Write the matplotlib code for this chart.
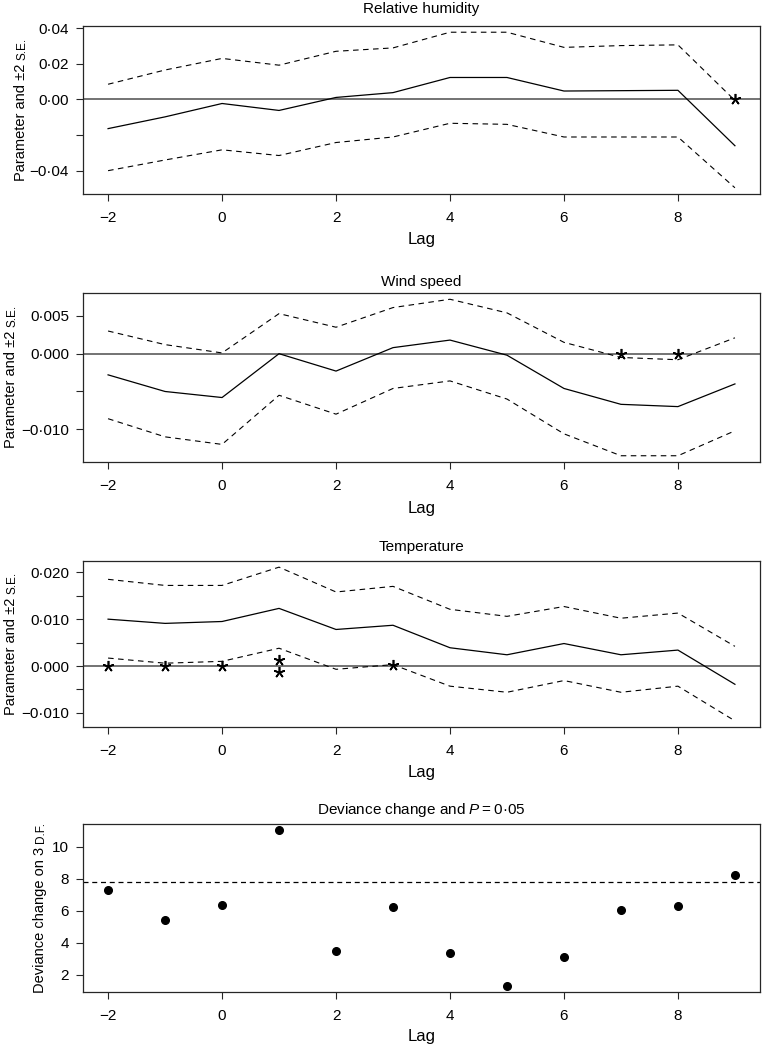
import numpy as np
import matplotlib
matplotlib.use('Agg')
import matplotlib.pyplot as plt

# ---- data ----
lags = [-2, -1, 0, 1, 2, 3, 4, 5, 6, 7, 8, 9]

rh_est = [-0.0164, -0.0098, -0.0023, -0.0062, 0.0011, 0.0038, 0.0123, 0.0123, 0.0047, 0.0049, 0.0051, -0.0260]
rh_upper = [0.0085, 0.0165, 0.0230, 0.0192, 0.0270, 0.0289, 0.0377, 0.0377, 0.0292, 0.0302, 0.0306, -0.0006]
rh_lower = [-0.0400, -0.0340, -0.0283, -0.0315, -0.0242, -0.0211, -0.0134, -0.0140, -0.0211, -0.0211, -0.0211, -0.0496]
rh_star_x = [9]
rh_star_y = [0.0]

ws_est = [-0.0028, -0.0050, -0.0058, 0.0000, -0.0023, 0.0008, 0.0018, -0.0002, -0.0046, -0.0067, -0.0070, -0.0040]
ws_upper = [0.0030, 0.0012, 0.0001, 0.0053, 0.0035, 0.0061, 0.0072, 0.0054, 0.0015, -0.0005, -0.0008, 0.0021]
ws_lower = [-0.0086, -0.0110, -0.0120, -0.0055, -0.0080, -0.0046, -0.0036, -0.0060, -0.0106, -0.0135, -0.0135, -0.0102]
ws_star_x = [7, 8]
ws_star_y = [0.0, 0.0]

te_est = [0.0100, 0.0091, 0.0095, 0.0123, 0.0078, 0.0087, 0.0039, 0.0024, 0.0048, 0.0024, 0.0034, -0.0039]
te_upper = [0.0185, 0.0172, 0.0172, 0.0211, 0.0158, 0.0170, 0.0121, 0.0106, 0.0127, 0.0102, 0.0113, 0.0042]
te_lower = [0.0017, 0.0006, 0.0010, 0.0038, -0.0007, 0.0003, -0.0043, -0.0056, -0.0031, -0.0056, -0.0043, -0.0117]
te_star_x = [-2, -1, 0, 1, 1, 3]
te_star_y = [0.0, 0.0, 0.0, 0.0012, -0.0012, 0.0003]

deviance = [7.31, 5.42, 6.38, 11.04, 3.48, 6.21, 3.33, 1.31, 3.10, 6.04, 6.27, 8.25]
crit_value = 7.81

xticks = [-2, 0, 2, 4, 6, 8]
xticklabels = ['\u22122', '0', '2', '4', '6', '8']

# ---- style ----
regular = ['Liberation Sans', 'DejaVu Sans']
plt.rcParams['font.family'] = regular
plt.rcParams['mathtext.fontset'] = 'custom'
plt.rcParams['mathtext.it'] = 'Liberation Sans:italic'
plt.rcParams['mathtext.rm'] = 'Liberation Sans'

W, H = 762, 1044
fig = plt.figure(figsize=(W / 100, H / 100), dpi=100)


def rlim(vals):
    lo, hi = min(vals), max(vals)
    pad = 0.04 * (hi - lo)
    return lo - pad, hi + pad


def make_axes(top, bottom):
    left, right = 83, 760
    ax = fig.add_axes([left / W, 1 - bottom / H, (right - left) / W, (bottom - top) / H])
    for s in ['top', 'right', 'left', 'bottom']:
        ax.spines[s].set_linewidth(0.9)
        ax.spines[s].set_color('0.15')
    ax.tick_params(direction='out', length=5, width=0.8, labelsize=11, pad=5, color='0.15')
    ax.tick_params(axis='x', pad=7)
    ax.set_xlim(rlim(lags))
    ax.set_xticks(xticks)
    ax.set_xticklabels(xticklabels)
    return ax


def ylabel(text_main, text_sc, xpix, top, bottom, total_px):
    # main text then small-caps abbreviation, reading upwards
    ymid = (top + bottom) / 2
    ystart = ymid + total_px / 2
    t = fig.text(xpix / W, 1 - ystart / H, text_main, rotation=90, rotation_mode='anchor',
                 ha='left', va='baseline', fontsize=10.5)
    fig.canvas.draw()
    ext = t.get_window_extent()
    yend = ext.y1 + 4
    fig.text(xpix / W, yend / H, text_sc, rotation=90, rotation_mode='anchor',
             ha='left', va='baseline', fontsize=8.5)


def band_panel(top, bottom, est, upper, lower, sx, sy, title, pad, yt, ytl, label_x):
    ax = make_axes(top, bottom)
    ax.set_ylim(rlim(est + upper + lower + sy))
    ax.axhline(0, color='0.3', lw=1.1, zorder=1)
    ax.plot(lags, est, color='black', lw=0.9)
    ax.plot(lags, upper, color='black', lw=0.8, ls=(0, (5, 4)))
    ax.plot(lags, lower, color='black', lw=0.8, ls=(0, (5, 4)))
    ax.plot(sx, sy, ls='none', marker=(5, 2, 0), ms=8, mew=1.2, color='black')
    ax.set_yticks(yt)
    ax.set_yticklabels(ytl)
    ax.set_title(title, fontsize=11, pad=pad)
    fig.text(421.5 / W, 1 - (bottom + 46) / H, 'Lag', ha='center', va='center', fontsize=12)
    ylabel('Parameter and \u00b12', 'S.E.', label_x, top, bottom, 142)
    return ax


band_panel(26, 194, rh_est, rh_upper, rh_lower, rh_star_x, rh_star_y,
           'Relative humidity', 9.4,
           [-0.04, -0.02, 0.0, 0.02, 0.04],
           ['\u22120\u00b704', '', '0\u00b700', '0\u00b702', '0\u00b704'], 25)

band_panel(293, 462, ws_est, ws_upper, ws_lower, ws_star_x, ws_star_y,
           'Wind speed', 4.8,
           [-0.010, -0.005, 0.0, 0.005],
           ['\u22120\u00b7010', '', '0\u00b7000', '0\u00b7005'], 15)

band_panel(561, 727, te_est, te_upper, te_lower, te_star_x, te_star_y,
           'Temperature', 7.2,
           [-0.010, -0.005, 0.0, 0.005, 0.010, 0.015, 0.020],
           ['\u22120\u00b7010', '', '0\u00b7000', '', '0\u00b7010', '', '0\u00b7020'], 15)

# deviance panel
ax4 = make_axes(824, 992)
ax4.set_ylim(rlim(deviance))
ax4.plot(lags, deviance, ls='none', marker='o', ms=5.5, color='black')
ax4.axhline(crit_value, color='black', lw=0.9, ls=(0, (4, 3)))
ax4.set_yticks([2, 4, 6, 8, 10])
ax4.set_title('Deviance change and $P$\u2009=\u20090\u00b705', fontsize=11, pad=7.2)
fig.text(421.5 / W, 1 - (992 + 45) / H, 'Lag', ha='center', va='center', fontsize=12)
ylabel('Deviance change on 3', 'D.F.', 44, 824, 992, 170)

fig.savefig('out.png', dpi=100)
